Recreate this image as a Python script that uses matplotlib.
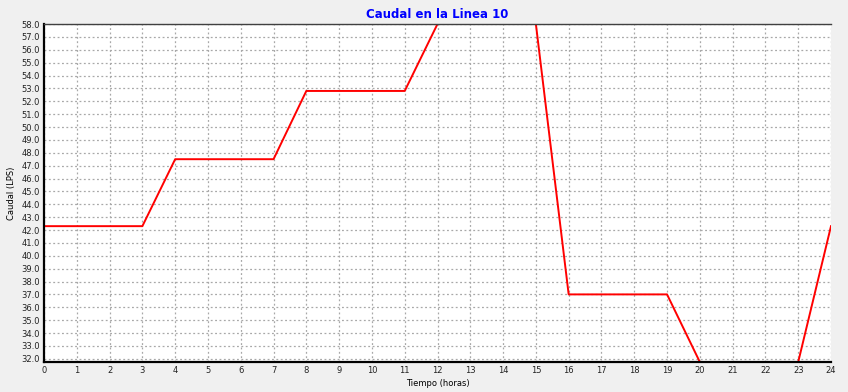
import matplotlib
matplotlib.use("Agg")
import matplotlib.pyplot as plt
import numpy as np

hours = [0, 1, 2, 3, 4, 5, 6, 7, 8, 9, 10, 11, 12, 13, 14, 15, 16, 17, 18, 19, 20, 21, 22, 23, 24]
caudal = [42.3, 42.3, 42.3, 42.3, 47.5, 47.5, 47.5, 47.5, 52.8, 52.8, 52.8, 52.8,
          58.0, 58.0, 58.0, 58.0, 37.0, 37.0, 37.0, 37.0, 31.75, 31.75, 31.75, 31.75, 42.3]
yticks = [32.0 + i for i in range(27)]
xticks = list(range(25))

fig = plt.figure(figsize=(8.48, 3.92), dpi=100, facecolor="#f0f0f0")
ax = fig.add_axes([44/848, 1 - 362/392, (831-44)/848, (362-24)/392])
ax.set_facecolor("white")
ax.plot(hours, caudal, color="#ff0000", lw=1.4, zorder=3)
ax.set_xlim(0, 24)
ax.set_ylim(31.75, 58.0)
ax.set_xticks(xticks)
ax.set_xticklabels([str(t) for t in xticks], fontsize=6)
ax.set_yticks(yticks)
ax.set_yticklabels([f"{v:.1f}" for v in yticks], fontsize=6)
ax.tick_params(length=0, pad=3, colors="#222222")
ax.grid(True, color="#a8a8a8", linestyle=(0, (1.5, 2)), lw=0.9)
for s in ["left", "bottom"]:
    ax.spines[s].set_linewidth(1.6)
    ax.spines[s].set_color("black")
ax.spines["top"].set_linewidth(1)
ax.spines["top"].set_color("#404040")
ax.spines["right"].set_visible(False)
for sp in ax.spines.values():
    sp.set_zorder(4)
ax.set_title("Caudal en la Linea 10", color="#0000ff", fontsize=8.5, fontweight="bold", pad=4)
ax.set_xlabel("Tiempo (horas)", fontsize=6, labelpad=3)
ax.set_ylabel("Caudal (LPS)", fontsize=6, labelpad=4)
fig.savefig("out.png", dpi=100, facecolor=fig.get_facecolor())
